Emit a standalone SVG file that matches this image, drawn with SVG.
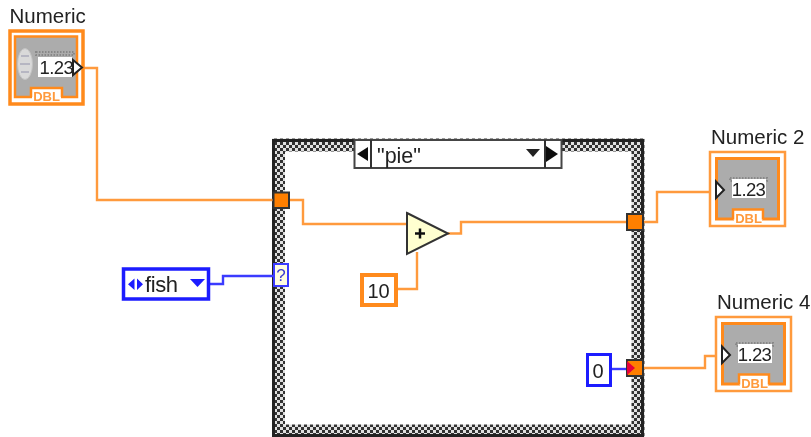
<svg xmlns="http://www.w3.org/2000/svg" width="811" height="437" viewBox="0 0 811 437">
<style>
text{font-family:"Liberation Sans",Arial,sans-serif;fill:#222}
.lbl{font-size:20.5px}
.val{font-size:18.5px;letter-spacing:-.6px}
.dbl{font-size:13px;font-weight:bold;fill:#ff9a3c}
.w{fill:none;stroke:#ff9a3c;stroke-width:2.4}
.b{fill:none;stroke:#3a3aff;stroke-width:2.4}
.tun{fill:#ff7f00;stroke:#333;stroke-width:2}
.tab{fill:#fff;stroke:#ff8a1e;stroke-width:2.5}
.fuzz{fill:none;stroke:#888;stroke-width:2;stroke-dasharray:1.500 1.500}
</style>
<defs>
<pattern id="chk" width="6" height="6" patternUnits="userSpaceOnUse" x="1" y="1">
<rect width="6" height="6" fill="#e0e0e0"/>
<rect width="3" height="3" fill="#333"/>
<rect x="3" y="3" width="3" height="3" fill="#333"/>
</pattern>
<filter id="s" x="-5%" y="-5%" width="110%" height="110%"><feGaussianBlur stdDeviation="0.5"/></filter>
<g id="ind">
<rect x="0" y="0" width="75" height="74" fill="#fff" stroke="#ff9a3c" stroke-width="2.5"/>
<rect x="6.500" y="6.500" width="62" height="60.500" fill="#acacac" stroke="#ff8a1e" stroke-width="3"/>
<rect x="24" y="58" width="28" height="13" fill="#fff"/>
<path class="tab" d="M23 67.500V57.500H53V67.500"/>
<text class="dbl" x="38.500" y="71" text-anchor="middle">DBL</text>
<rect x="20" y="26" width="37" height="3" class="fuzz"/>
<rect x="22" y="27" width="34" height="19" fill="#fff"/>
<text class="val" x="38.500" y="43.500" text-anchor="middle">1.23</text>
<path d="M6 29.500L14 38L6 46Z" fill="#fff" stroke="#222" stroke-width="2"/>
</g>
</defs>
<g filter="url(#s)">
<g id="case">
<rect x="278.500" y="145" width="359.500" height="286" fill="none" stroke="url(#chk)" stroke-width="13"/>
<rect x="273.500" y="140.500" width="369" height="295" fill="none" stroke="#222" stroke-width="3"/>
</g>
<g id="connectors">
<path class="w" d="M84 68H97V200H303V224H406"/>
<path class="w" d="M398 289H417V252"/>
<path class="w" d="M448 233.500H461V222H627"/>
<path class="w" d="M644 222H657V192H716"/>
<path class="w" d="M643 368H705V356H722"/>
<path class="b" d="M209 284H223V276H274"/>
<path class="b" d="M611 369H628"/>
</g>
<g id="selector">
<rect x="354.500" y="140" width="207" height="28" fill="#fff" stroke="#444" stroke-width="2"/>
<path d="M371 140V168M545 140V168" stroke="#333" stroke-width="2"/>
<path d="M368 147V161L357 154ZM546 146V162L558 154Z" fill="#111"/>
<path d="M526 149H540L533 157Z" fill="#222"/>
<text x="377" y="163" style="font-size:21.500px">"pie"</text>
</g>
<g id="numeric">
<text class="lbl" x="9.500" y="23">Numeric</text>
<rect x="10" y="31" width="73" height="73" fill="#fff" stroke="#ff8a1e" stroke-width="3.500"/>
<rect x="15" y="36.500" width="62" height="60.500" fill="#acacac" stroke="#ff8a1e" stroke-width="2.500"/>
<rect x="32" y="88" width="29" height="13" fill="#fff"/>
<path class="tab" d="M31 97V88H62V97"/>
<text class="dbl" x="46.500" y="101" text-anchor="middle">DBL</text>
<ellipse cx="25" cy="64" rx="7.500" ry="15.500" fill="#d9d9d9" stroke="#c2c2c2"/>
<path d="M21 56H29M20 64H30M21 72H29" stroke="#aab" stroke-width="1.500"/>
<rect x="36" y="52" width="38" height="3" class="fuzz"/>
<rect x="38" y="57" width="34" height="20" fill="#fff"/>
<text class="val" x="39.500" y="73.500">1.23</text>
<path d="M73 60L82 67.500L73 75Z" fill="#fff" stroke="#222" stroke-width="2"/>
</g>
<g id="numeric2">
<text class="lbl" x="711" y="144">Numeric 2</text>
<use href="#ind" x="710" y="152"/>
</g>
<g id="numeric4">
<text class="lbl" x="717" y="309">Numeric 4</text>
<use href="#ind" x="716" y="317"/>
</g>
<g id="fish">
<rect x="123.500" y="269" width="85" height="30" fill="#fff" stroke="#1a1aff" stroke-width="3.500"/>
<path d="M134.500 278.500V290L128 284.200ZM137 278.500L143 284.200L137 290Z" fill="#1a1aff"/>
<text x="145" y="292" style="font-size:22px;letter-spacing:-.4px">fish</text>
<path d="M190 279H205L197.500 287Z" fill="#1a1aff"/>
</g>
<g id="selector-terminal">
<rect x="274" y="264" width="14" height="22" fill="#fffde0" stroke="#3a3aff" stroke-width="2"/>
<text x="281" y="281" text-anchor="middle" style="font-size:17px;fill:#3a3ad0">?</text>
</g>
<g id="t1"><rect class="tun" x="273.500" y="192.500" width="15.500" height="15.500"/></g>
<g id="t2"><rect class="tun" x="627" y="214" width="16" height="16"/></g>
<g id="t3"><rect class="tun" x="627" y="360" width="16" height="16"/><path d="M627 361L635 368L627 375Z" fill="#e8003a"/></g>
<g id="add">
<path d="M407 213L448 233.500L407 254Z" fill="#ffffd0" stroke="#333" stroke-width="2"/>
<path d="M415 233.500H425M420 228.500V238.500" stroke="#111" stroke-width="2.500"/>
</g>
<g id="const10">
<rect x="362" y="275" width="34" height="30" fill="#fff" stroke="#ff8a1e" stroke-width="4"/>
<text x="378.500" y="298" text-anchor="middle" style="font-size:20px">10</text>
</g>
<g id="const0">
<rect x="587.500" y="354.500" width="23" height="31" fill="#fff" stroke="#1a1aff" stroke-width="3"/>
<text x="598" y="378" text-anchor="middle" style="font-size:20px">0</text>
</g>
</g>
</svg>
